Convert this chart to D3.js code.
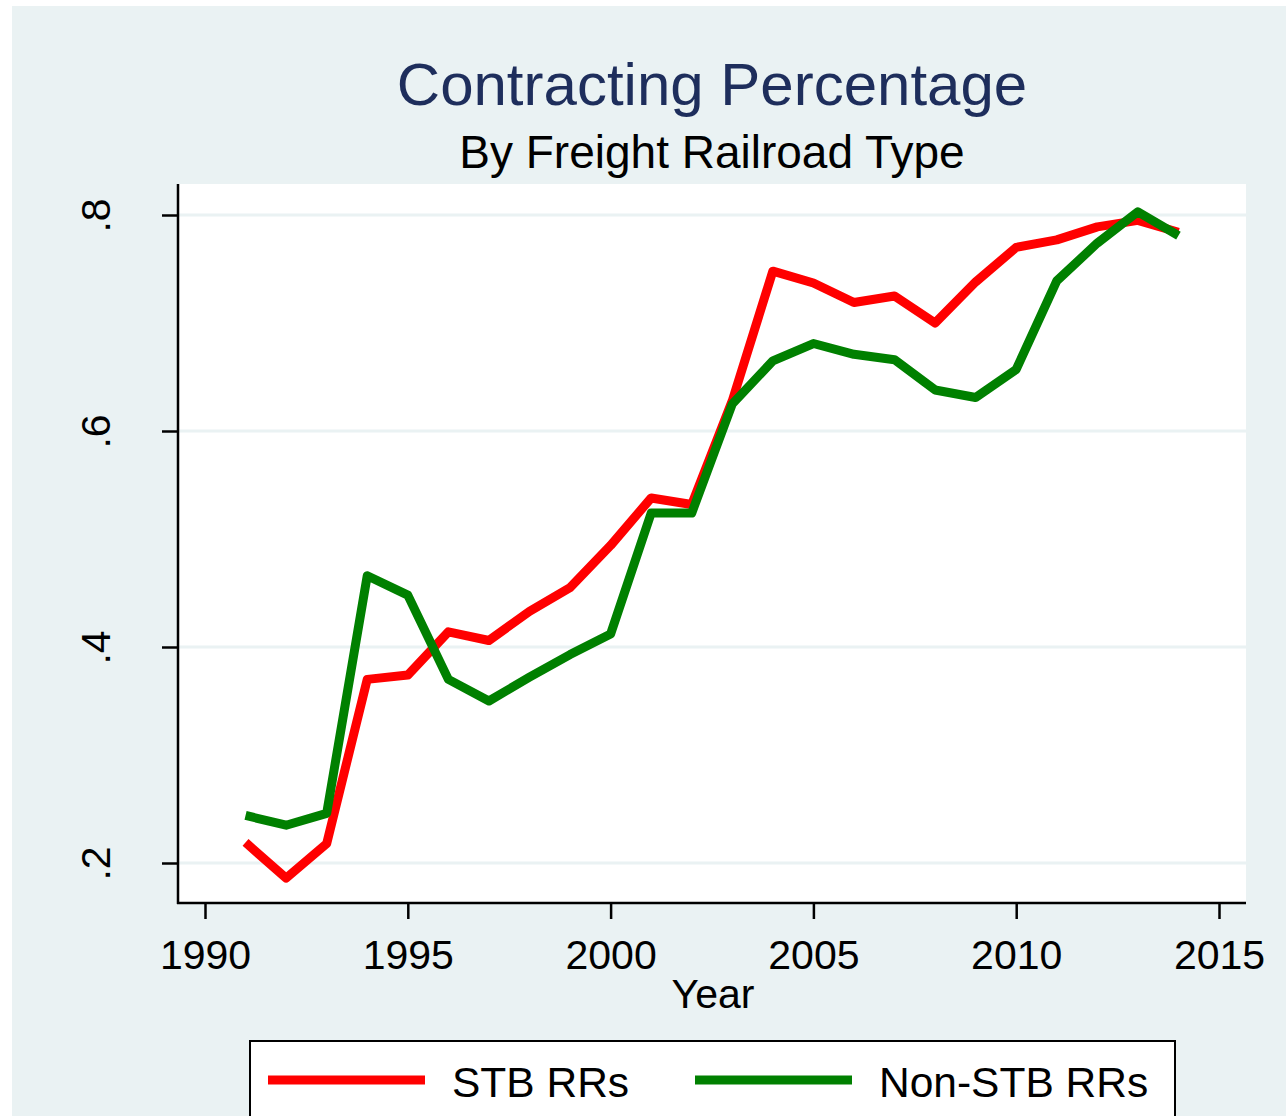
<!DOCTYPE html>
<html>
<head>
<meta charset="utf-8">
<script src="https://cdn.jsdelivr.net/npm/d3@7"></script>
<style>
  body { margin: 0; background: #fff; }
  svg { display: block; font-family: "Liberation Sans", Arial, sans-serif; }
</style>
</head>
<body>
<div id="chart"></div>
<script>
// Contracting percentage by freight railroad type, Stata-style line chart.

const years = [1991, 1992, 1993, 1994, 1995, 1996, 1997, 1998, 1999, 2000, 2001, 2002,
  2003, 2004, 2005, 2006, 2007, 2008, 2009, 2010, 2011, 2012, 2013, 2014];
const stbValues = [0.219, 0.186, 0.218, 0.370, 0.374, 0.414, 0.406, 0.433, 0.455, 0.494,
  0.538, 0.532, 0.628, 0.748, 0.737, 0.719, 0.725, 0.700, 0.738, 0.770, 0.777, 0.789, 0.795, 0.784];
const nonStbValues = [0.244, 0.235, 0.246, 0.466, 0.448, 0.370, 0.350, 0.372, 0.393, 0.412,
  0.524, 0.524, 0.625, 0.665, 0.681, 0.671, 0.666, 0.638, 0.631, 0.657, 0.739, 0.774, 0.803, 0.781];
const xTicks = [1990, 1995, 2000, 2005, 2010, 2015];
const yTicks = [0.2, 0.4, 0.6, 0.8];
const yTickLabels = [".2", ".4", ".6", ".8"];
const seriesNames = ["STB RRs", "Non-STB RRs"];

const W = 1286, H = 1116;
const BG = "#eaf2f3";
const plot = { left: 178, right: 1246, top: 184, bottom: 903 };

const series = [
  { name: seriesNames[0], color: "#ff0000", values: stbValues },
  { name: seriesNames[1], color: "#008000", values: nonStbValues },
];

const svg = d3.select("#chart").append("svg")
  .attr("width", W).attr("height", H);

// outer graph region
svg.append("rect")
  .attr("x", 12).attr("y", 6).attr("width", W - 12).attr("height", H - 6)
  .attr("fill", BG);

// plot region
svg.append("rect")
  .attr("x", plot.left).attr("y", plot.top)
  .attr("width", plot.right - plot.left).attr("height", plot.bottom - plot.top)
  .attr("fill", "#fff");

const x = d3.scaleLinear().domain([1990, 2015]).range([205, 1219]);
const y = d3.scaleLinear().domain([0.2, 0.8]).range([863, 215]);

// gridlines
svg.append("g").selectAll("line").data(yTicks).join("line")
  .attr("x1", plot.left).attr("x2", plot.right)
  .attr("y1", d => y(d)).attr("y2", d => y(d))
  .attr("stroke", BG).attr("stroke-width", 3);

// ─── lines ───────────────────────────────────────────────────────────
const line = d3.line()
  .x((d, i) => x(years[i]))
  .y(d => y(d));

svg.append("g").selectAll("path").data(series).join("path")
  .attr("d", d => line(d.values))
  .attr("fill", "none")
  .attr("stroke", d => d.color)
  .attr("stroke-width", 9)
  .attr("stroke-linejoin", "round");

// ─── axes ────────────────────────────────────────────────────────────
const yAxis = svg.append("g")
  .attr("transform", `translate(${plot.left},0)`)
  .call(d3.axisLeft(y).tickValues(yTicks).tickSize(16).tickFormat((d, i) => yTickLabels[i]));
yAxis.select(".domain").remove();
yAxis.append("line")
  .attr("x1", 0).attr("x2", 0).attr("y1", plot.top).attr("y2", plot.bottom + 1)
  .attr("stroke", "#000").attr("stroke-width", 2.5);
yAxis.selectAll(".tick line").attr("stroke", "#000").attr("stroke-width", 2.5);
yAxis.selectAll(".tick text")
  .attr("fill", "#000")
  .attr("font-size", 41)
  .attr("x", null).attr("dy", null)
  .attr("text-anchor", "middle")
  .attr("transform", "translate(-82,0) rotate(-90)")
  .attr("y", 14);

const xAxis = svg.append("g")
  .attr("transform", `translate(0,${plot.bottom})`)
  .call(d3.axisBottom(x).tickValues(xTicks).tickSize(16).tickFormat(d3.format("d")));
xAxis.select(".domain").remove();
xAxis.append("line")
  .attr("x1", plot.left - 1).attr("x2", plot.right).attr("y1", 0).attr("y2", 0)
  .attr("stroke", "#000").attr("stroke-width", 2.5);
xAxis.selectAll(".tick line").attr("stroke", "#000").attr("stroke-width", 2.5);
xAxis.selectAll(".tick text")
  .attr("fill", "#000")
  .attr("font-size", 41)
  .attr("dy", null)
  .attr("y", 66);

svg.append("text")
  .attr("x", 713).attr("y", 1008)
  .attr("text-anchor", "middle").attr("font-size", 41)
  .text("Year");

// ─── titles ──────────────────────────────────────────────────────────
svg.append("text")
  .attr("x", 712).attr("y", 105)
  .attr("text-anchor", "middle").attr("font-size", 60)
  .attr("fill", "#1e2e5c")
  .text("Contracting Percentage");
svg.append("text")
  .attr("x", 712).attr("y", 168)
  .attr("text-anchor", "middle").attr("font-size", 46)
  .attr("fill", "#000")
  .text("By Freight Railroad Type");

// ─── legend ──────────────────────────────────────────────────────────
svg.append("rect")
  .attr("x", 250).attr("y", 1041).attr("width", 925).attr("height", 100)
  .attr("fill", "#fff").attr("stroke", "#000").attr("stroke-width", 2);

const legendX = [268, 695];
const legend = svg.append("g").selectAll("g").data(series).join("g")
  .attr("transform", (d, i) => `translate(${legendX[i]},1080)`);
legend.append("line")
  .attr("x1", 0).attr("x2", 157).attr("y1", 0).attr("y2", 0)
  .attr("stroke", d => d.color).attr("stroke-width", 9);
legend.append("text")
  .attr("x", 184).attr("y", 17)
  .attr("font-size", 42.5)
  .text(d => d.name);
</script>
</body>
</html>
